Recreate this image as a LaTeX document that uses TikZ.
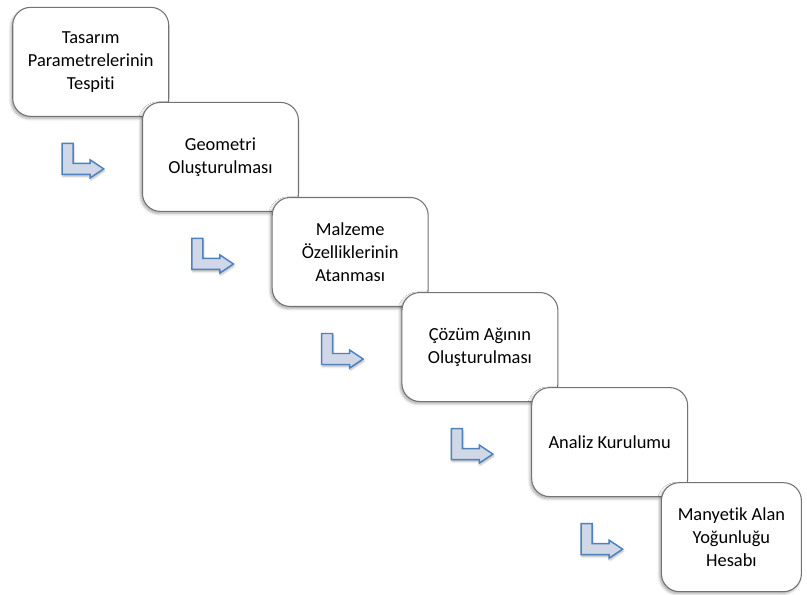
\documentclass[tikz,border=0pt]{standalone}
\usepackage{fontspec}
\setmainfont{Carlito}[Ligatures=NoCommon]
\usetikzlibrary{positioning,shadows.blur}

\definecolor{okdolgu}{RGB}{208,216,232}
\definecolor{okcizgi}{RGB}{79,129,189}

\tikzset{
  stage/.style={draw=black!55,line width=0.8pt,fill=white,rounded corners=13.5pt,
    minimum width=117pt,minimum height=81.75pt,align=center,inner sep=2pt,
    font=\fontsize{13.8}{17.25}\selectfont,
    blur shadow={shadow xshift=-1.2pt,shadow yshift=-1.5pt,shadow blur steps=6,shadow blur radius=2pt,shadow opacity=35}},
  bentarrow/.style={draw=okcizgi,fill=okdolgu,line width=1.1pt,line join=miter,
    blur shadow={shadow xshift=0.5pt,shadow yshift=-1.5pt,shadow blur steps=5,shadow blur radius=1.5pt,shadow opacity=30}}
}

\begin{document}
\begin{tikzpicture}[x=0.75pt,y=-0.75pt,node distance=-11.25pt and -20.5pt]

    \useasboundingbox (0,0) rectangle (807,594);

    \node[stage,anchor=north west] (tasarim) at (12.2,6.8) {Tasarım\\Parametrelerinin\\Tespiti};
    \node[stage,below right=of tasarim] (geometri) {Geometri\\Oluşturulması};
    \node[stage,below right=of geometri] (malzeme) {Malzeme\\Özelliklerinin\\Atanması};
    \node[stage,below right=of malzeme] (cozum) {Çözüm Ağının\\Oluşturulması};
    \node[stage,below right=of cozum] (analiz) {Analiz Kurulumu};
    \node[stage,below right=of analiz,minimum width=105pt] (manyetik) {Manyetik Alan\\Yoğunluğu\\Hesabı};

    % L-shaped arrows under each box
    \foreach \b in {tasarim,geometri,malzeme,cozum,analiz}
      \draw[bentarrow,shift={(\b.south west)}]
        (50,26.5) -- (61,26.5) -- (61,46.5) -- (78,46.5) -- (78,43)
        -- (91.5,52) -- (78,61) -- (78,57.5) -- (50,57.5) -- cycle;

\end{tikzpicture}
\end{document}
